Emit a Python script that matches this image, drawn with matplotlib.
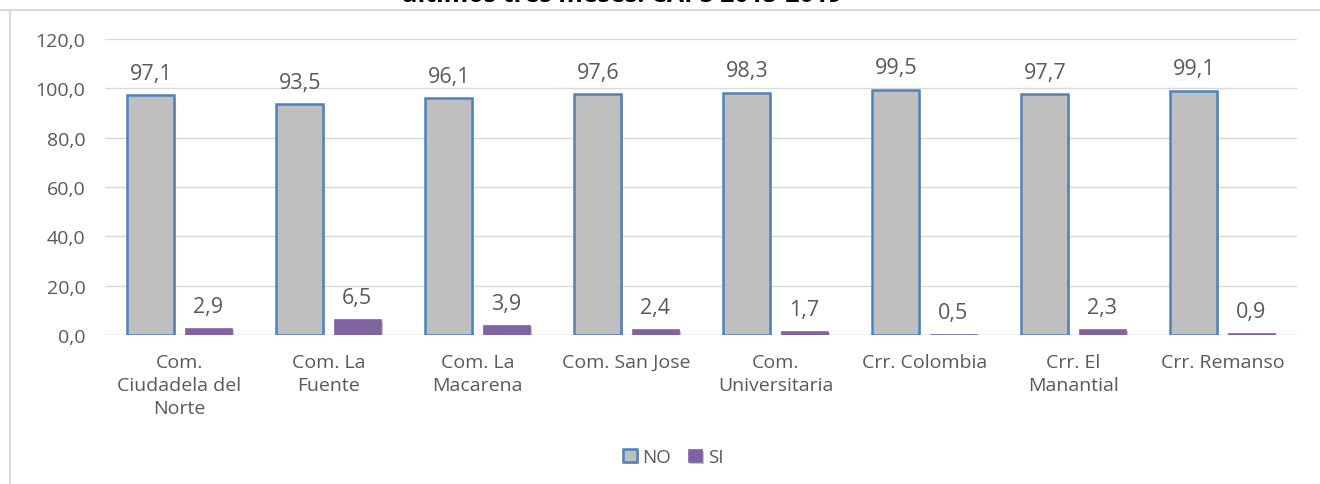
import matplotlib.pyplot as plt
import matplotlib.patheffects as pe
import numpy as np

# ── Data ──────────────────────────────────────────────
categorias = [
    "Com.\nCiudadela del\nNorte",
    "Com. La\nFuente",
    "Com. La\nMacarena",
    "Com. San Jose",
    "Com.\nUniversitaria",
    "Crr. Colombia",
    "Crr. El\nManantial",
    "Crr. Remanso",
]
valores_no = [97.1, 93.5, 96.1, 97.6, 98.3, 99.5, 97.7, 99.1]
valores_si = [2.9, 6.5, 3.9, 2.4, 1.7, 0.5, 2.3, 0.9]
y_ticks = [0, 20, 40, 60, 80, 100, 120]

plt.rcParams["font.family"] = ["Open Sans", "DejaVu Sans"]
texto = "#595959"

W, H = 1320, 485
fig = plt.figure(figsize=(W / 100, H / 100), dpi=100)
ax = fig.add_axes([105 / W, (H - 336) / H, (1297 - 105) / W, (336 - 40) / H])

x = np.arange(len(categorias))
ancho = 0.315
sombra = [pe.SimplePatchShadow(offset=(1.5, -1.5), alpha=0.25), pe.Normal()]

b_no = ax.bar(x - ancho / 2 - 0.035, valores_no, ancho, color="#bfbfbf",
              edgecolor="#4f81bd", linewidth=1.8, label="NO", zorder=3,
              path_effects=sombra)
b_si = ax.bar(x + ancho / 2 + 0.035, valores_si, ancho, color="#8064a2",
              edgecolor="#8064a2", linewidth=0.5, label="SI", zorder=3,
              path_effects=sombra)

# etiquetas de valor con coma decimal
for barras, vals in ((b_no, valores_no), (b_si, valores_si)):
    for rect, v in zip(barras, vals):
        ax.annotate(f"{v:.1f}".replace(".", ","),
                    (rect.get_x() + rect.get_width() / 2, v),
                    xytext=(0, 8), textcoords="offset points",
                    ha="center", va="bottom", fontsize=15.5, color=texto)

ax.set_ylim(0, 120)
ax.set_xlim(-0.5, len(categorias) - 0.5)
ax.set_yticks(y_ticks)
ax.set_yticklabels([f"{t:.1f}".replace(".", ",") for t in y_ticks])
ax.set_xticks(x)
ax.set_xticklabels(categorias, linespacing=1.35)
ax.tick_params(axis="y", length=0, labelsize=14, colors=texto, pad=14)
ax.tick_params(axis="x", length=0, labelsize=14, colors=texto, pad=13)
ax.grid(axis="y", color="#d9d9d9", linewidth=1, zorder=0)
for s in ax.spines.values():
    s.set_visible(False)
ax.axhline(0, color="#d9d9d9", linewidth=1, zorder=2)

ax.legend(loc="center", bbox_to_anchor=(673 / W, 1 - 458 / H),
          bbox_transform=fig.transFigure, ncol=2, frameon=False,
          fontsize=13.5, labelcolor=texto, handlelength=0.75, handleheight=0.75,
          handletextpad=0.3, columnspacing=0.9)

# marco del gráfico y título cortado arriba
fig.add_artist(plt.Line2D([0, 1], [1 - 11 / H] * 2, color="#d9d9d9",
                          linewidth=1.5, transform=fig.transFigure))
fig.add_artist(plt.Line2D([10 / W] * 2, [0, 1 - 11 / H], color="#d9d9d9",
                          linewidth=1.5, transform=fig.transFigure))
fig.text(622 / W, 1 + 5 / H, "últimos tres meses. CAPS 2015-2019",
         ha="center", va="center", fontsize=18, fontweight="bold", color="black")

fig.savefig("out.png", dpi=100)
